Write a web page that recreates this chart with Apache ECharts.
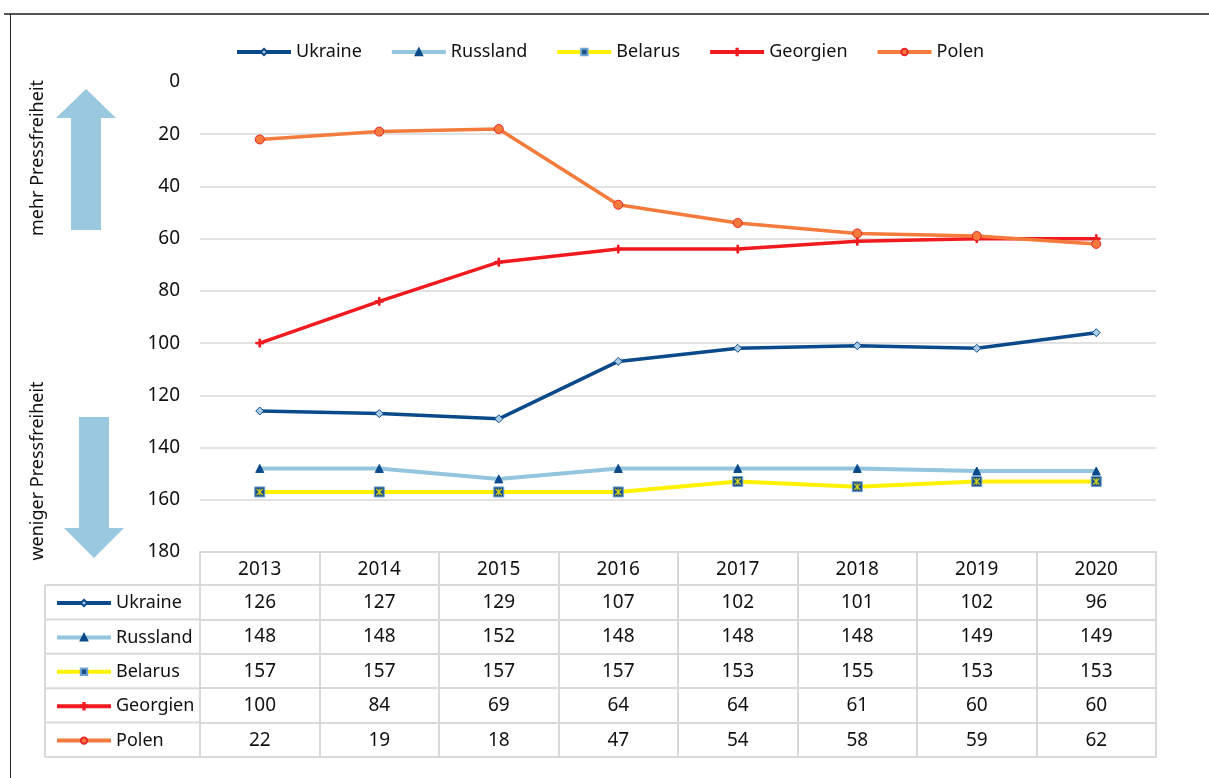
<!DOCTYPE html>
<html lang="de">
<head>
    <meta charset="UTF-8">
    <title>Pressefreiheit</title>
    <script src="https://cdn.jsdelivr.net/npm/echarts@6/dist/echarts.min.js"></script>
    <style>
        body { margin: 0; padding: 0; background: #ffffff; }
        #chart { width: 1209px; height: 778px; }
    </style>
</head>
<body>
<div id="chart"></div>
<script>
    // Daten (Rangplatz)
    var years = ['2013', '2014', '2015', '2016', '2017', '2018', '2019', '2020'];
    var ukraine  = [126, 127, 129, 107, 102, 101, 102, 96];
    var russland = [148, 148, 152, 148, 148, 148, 149, 149];
    var belarus  = [157, 157, 157, 157, 153, 155, 153, 153];
    var georgien = [100, 84, 69, 64, 64, 61, 60, 60];
    var polen    = [22, 19, 18, 47, 54, 58, 59, 62];
    var names = ['Ukraine', 'Russland', 'Belarus', 'Georgien', 'Polen'];
    var rows = [ukraine, russland, belarus, georgien, polen];

    var chart = echarts.init(document.getElementById('chart'));

    var font = 'Noto Sans';
    var gridLeft = 200, gridRight = 1156, gridTop = 82, gridBottom = 552;
    var headH = 33, rowH = 34.4;
    var cellLine = { color: '#d9d9d9', width: 2 };

    var plusPath = 'path://M4,0H6V10H4Z M0,4H10V6H0Z';
    var starPath = 'path://M1,0L5,3.6L9,0L10,1L6.4,5L10,9L9,10L5,6.4L1,10L0,9L3.6,5L0,1Z M4.3,0H5.7V10H4.3Z';

    // Linien
    var styles = [
        { color: '#0b4a8a', width: 3.5, symbol: 'diamond', size: 8, fill: '#a9cde8', border: '#0b4a8a' },
        { color: '#93c5de', width: 4, symbol: 'triangle', size: 8, fill: '#0b4a8a', border: '#0b4a8a' },
        { color: '#fff200', width: 4, symbol: 'rect', size: 10, fill: '#1d4f85', border: '#6fa3d3' },
        { color: '#f01a1f', width: 3.5, symbol: plusPath, size: 8, fill: '#f01a1f', border: '#f01a1f' },
        { color: '#f47b3b', width: 3.5, symbol: 'circle', size: 9, fill: '#f47b3b', border: '#e8262a' }
    ];

    var series = rows.map(function (vals, i) {
        var s = styles[i];
        return {
            name: names[i],
            type: 'line',
            data: vals,
            symbol: s.symbol,
            symbolSize: s.size,
            lineStyle: { color: s.color, width: s.width },
            itemStyle: { color: s.fill, borderColor: s.border, borderWidth: 1 },
            emphasis: { disabled: true },
            z: 2 + i
        };
    });
    // gelbes Kreuz im Belarus-Marker
    series.push({
        type: 'scatter',
        data: belarus,
        symbol: starPath,
        symbolSize: 7,
        itemStyle: { color: '#fff200' },
        silent: true,
        z: 10
    });

    // Tabelle unter dem Diagramm ueber zusaetzliche Kategorie-Achsen
    var tableAxes = rows.map(function (vals, i) {
        return {
            type: 'category',
            gridIndex: 0,
            position: 'bottom',
            offset: headH + i * rowH,
            data: years,
            axisLine: { onZero: false, lineStyle: cellLine },
            axisTick: { show: true, interval: 0, length: rowH, lineStyle: cellLine },
            axisLabel: {
                interval: 0, margin: 8, fontSize: 19, color: '#111', fontFamily: font,
                formatter: function (v, idx) { return String(vals[idx]); }
            }
        };
    });
    tableAxes.push({
        type: 'category',
        gridIndex: 0,
        position: 'bottom',
        offset: headH + rows.length * rowH,
        data: years,
        axisLine: { onZero: false, lineStyle: cellLine },
        axisTick: { show: false },
        axisLabel: { show: false }
    });

    var legendLines = [];
    for (var r = 0; r <= rows.length; r++) {
        var yy = gridBottom + headH + r * rowH;
        legendLines.push({ type: 'line', shape: { x1: 45, y1: yy, x2: gridLeft, y2: yy }, style: { stroke: '#d9d9d9', lineWidth: 2 } });
    }
    legendLines.push({ type: 'line', shape: { x1: 45, y1: gridBottom + headH, x2: 45, y2: gridBottom + headH + rows.length * rowH }, style: { stroke: '#d9d9d9', lineWidth: 2 } });

    var arrowColor = '#9ac8df';

    var option = {
        backgroundColor: '#ffffff',
        animation: false,
        textStyle: { fontFamily: font },
        legend: [
            {
                data: names,
                top: 38,
                left: 230,
                itemWidth: 54,
                itemHeight: 8,
                itemGap: 28,
                selectedMode: false,
                lineStyle: { width: 4 },
                textStyle: { fontSize: 18, color: '#111', fontFamily: font }
            },
            {
                data: names,
                orient: 'vertical',
                left: 50,
                top: gridBottom + headH + 2,
                itemWidth: 54,
                itemHeight: 8,
                itemGap: 12.4,
                selectedMode: false,
                lineStyle: { width: 4 },
                textStyle: { fontSize: 18, lineHeight: 22, color: '#111', fontFamily: font }
            }
        ],
        grid: {
            left: gridLeft,
            right: 1209 - gridRight,
            top: gridTop,
            bottom: 778 - gridBottom,
            containLabel: false
        },
        xAxis: [
            {
                type: 'category',
                data: years,
                position: 'bottom',
                axisLine: { onZero: false, lineStyle: cellLine },
                axisTick: { show: true, interval: 0, length: headH, lineStyle: cellLine },
                axisLabel: { interval: 0, margin: 8, fontSize: 19, color: '#111', fontFamily: font }
            }
        ].concat(tableAxes),
        yAxis: {
            type: 'value',
            inverse: true,
            min: 0,
            max: 180,
            interval: 20,
            axisLine: { show: false },
            axisTick: { show: false },
            axisLabel: { margin: 20, fontSize: 19, color: '#111', fontFamily: font },
            splitLine: { show: true, showMinLine: false, lineStyle: { color: '#d9d9d9', width: 1.5 } }
        },
        graphic: [
            // Rahmen
            { type: 'line', shape: { x1: 4, y1: 14, x2: 1209, y2: 14 }, style: { stroke: '#555', lineWidth: 2 } },
            { type: 'line', shape: { x1: 10.5, y1: 14, x2: 10.5, y2: 778 }, style: { stroke: '#222', lineWidth: 1 } },
            // Pfeile
            { type: 'polygon', shape: { points: [[86, 89], [116, 118], [101, 118], [101, 230], [71, 230], [71, 118], [56, 118]] }, style: { fill: arrowColor } },
            { type: 'polygon', shape: { points: [[79, 417], [109, 417], [109, 528], [124, 528], [94, 558], [64, 528], [79, 528]] }, style: { fill: arrowColor } },
            { type: 'text', x: 38, y: 158, rotation: Math.PI / 2, style: { text: 'mehr Pressfreiheit', font: '18px "Noto Sans"', fill: '#111', align: 'center', verticalAlign: 'middle' } },
            { type: 'text', x: 38, y: 471, rotation: Math.PI / 2, style: { text: 'weniger Pressfreiheit', font: '18px "Noto Sans"', fill: '#111', align: 'center', verticalAlign: 'middle' } }
        ].concat(legendLines),
        series: series
    };

    chart.setOption(option);
</script>
</body>
</html>
